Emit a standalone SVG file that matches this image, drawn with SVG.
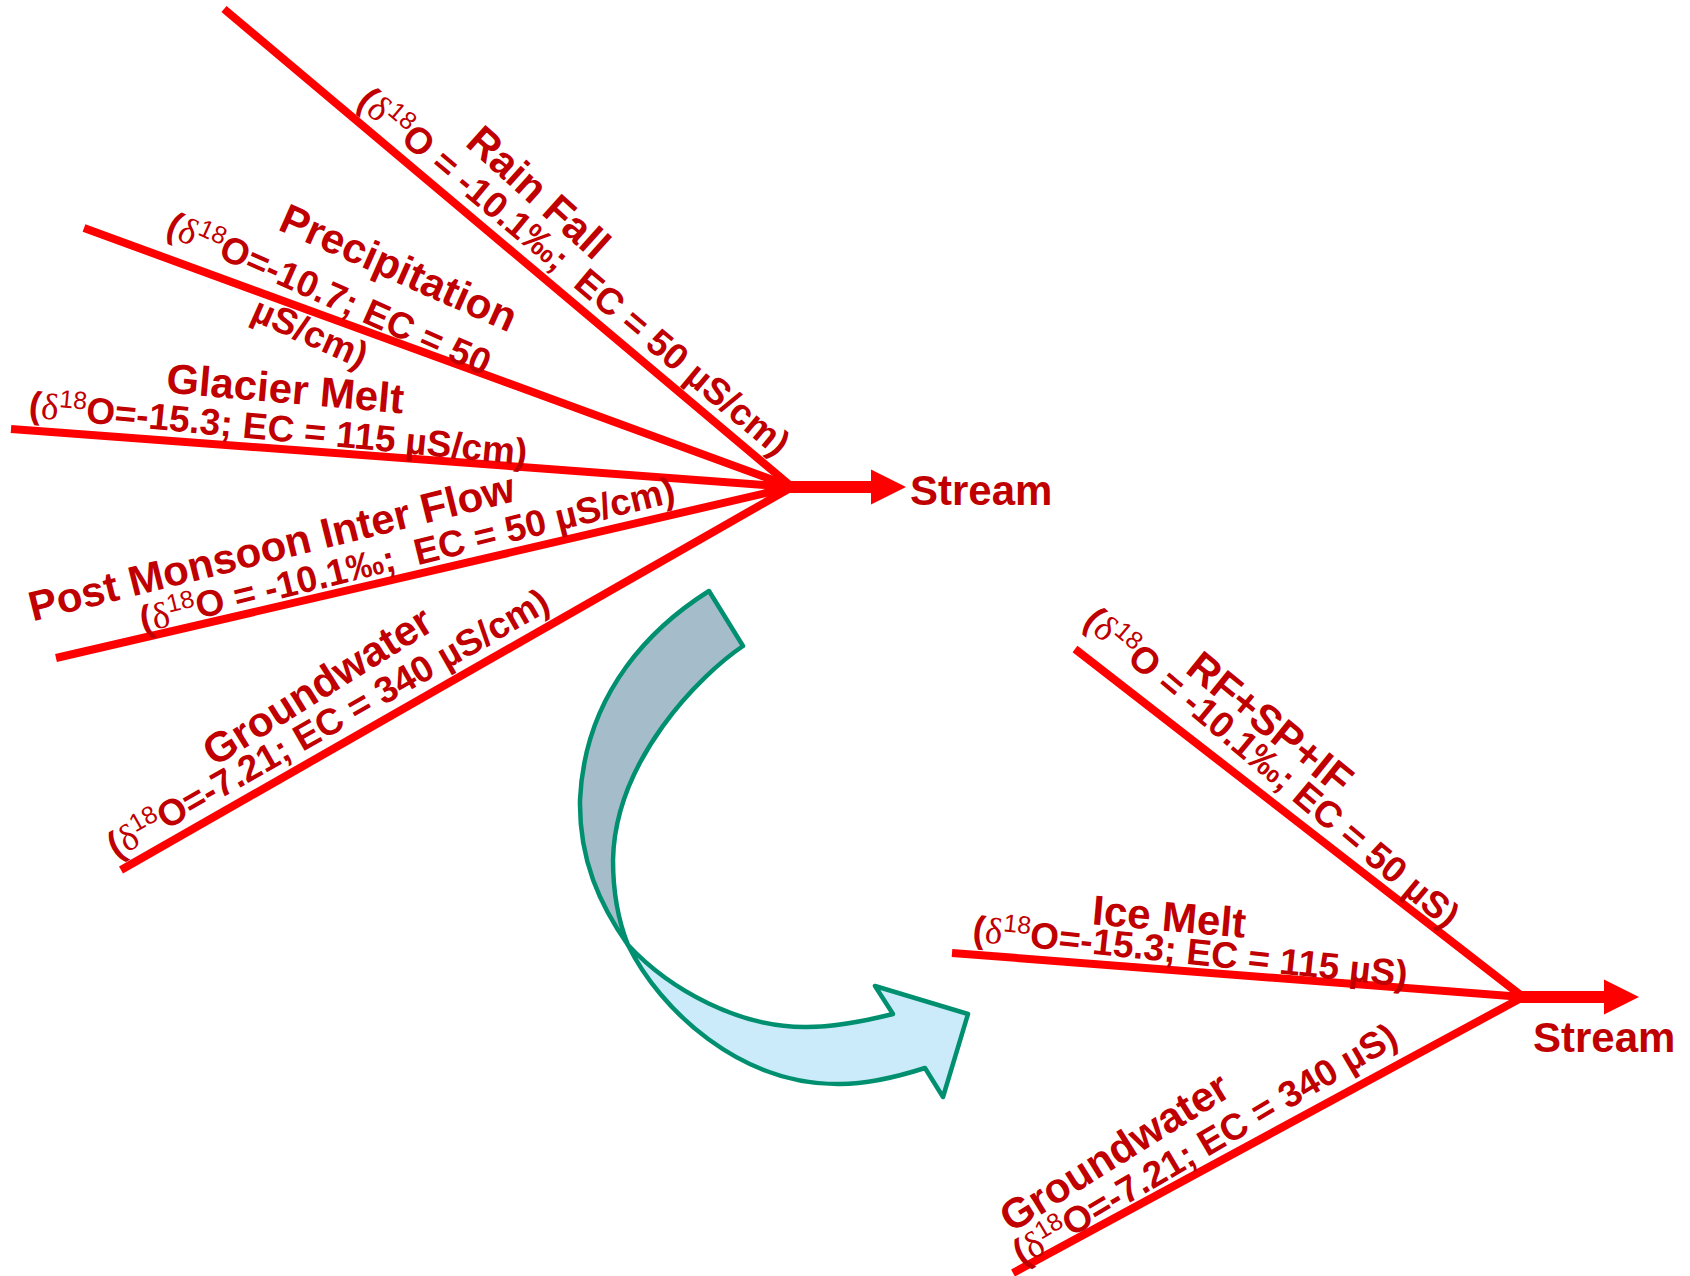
<svg xmlns="http://www.w3.org/2000/svg" width="1690" height="1276" viewBox="0 0 1690 1276">
<defs>
<style>
.ln{stroke:#FF0000;stroke-width:8;fill:none}
.st{stroke:#FF0000;stroke-width:12;fill:none}
.hd{fill:#FF0000}
text{font-family:"Liberation Sans",Arial,sans-serif;font-weight:bold;fill:#C00000;text-anchor:middle}
.t{font-size:42px}
.s{font-size:37px}
.sm{font-size:42px;text-anchor:start}
.d{font-family:"Liberation Serif","DejaVu Serif",serif;font-weight:normal}
.sup{font-size:25px;font-weight:normal}
.arw{stroke:#009070;stroke-width:4.5;stroke-linejoin:round}
</style>
</defs>
<rect width="1690" height="1276" fill="#FFFFFF"/>
<g id="connectors">
<line class="ln" x1="224" y1="9" x2="792" y2="487"/>
<line class="ln" x1="84" y1="228" x2="792" y2="487"/>
<line class="ln" x1="11" y1="429" x2="792" y2="487"/>
<line class="ln" x1="56" y1="658" x2="792" y2="487"/>
<line class="ln" x1="121" y1="870" x2="792" y2="487"/>
<line class="st" x1="788" y1="487" x2="875" y2="487"/>
<polygon class="hd" points="871,469.5 906,487 871,504.5"/>
<line class="ln" x1="1075" y1="649" x2="1523" y2="997"/>
<line class="ln" x1="952" y1="953" x2="1523" y2="997"/>
<line class="ln" x1="1013" y1="1273" x2="1523" y2="997"/>
<line class="st" x1="1519" y1="997" x2="1608" y2="997"/>
<polygon class="hd" points="1604,979.5 1639,997 1604,1014.5"/>
</g>
<g id="rainfall">
<text class="t" transform="translate(529,203) rotate(42)">Rain Fall</text>
<text class="s" transform="translate(566,281) rotate(40)">(<tspan class="d">δ</tspan><tspan class="sup" dy="-13">18</tspan><tspan dy="13">O = -10.1‰;&#160; EC = 50 µS/cm)</tspan></text>
</g>
<g id="precipitation">
<text class="t" transform="translate(393,281) rotate(24)">Precipitation</text>
<text class="s" transform="translate(324,305) rotate(24)">(<tspan class="d">δ</tspan><tspan class="sup" dy="-13">18</tspan><tspan dy="13">O=-10.7; EC = 50</tspan></text>
<text class="s" transform="translate(305,344) rotate(24)">µS/cm)</text>
</g>
<g id="glacier-melt">
<text class="t" transform="translate(284,403) rotate(5)">Glacier Melt</text>
<text class="s" transform="translate(277,441) rotate(5.5)">(<tspan class="d">δ</tspan><tspan class="sup" dy="-13">18</tspan><tspan dy="13">O=-15.3; EC = 115 µS/cm)</tspan></text>
</g>
<g id="post-monsoon">
<text class="t" transform="translate(275,561) rotate(-14)">Post Monsoon Inter Flow</text>
<text class="s" transform="translate(410,567) rotate(-13.8)">(<tspan class="d">δ</tspan><tspan class="sup" dy="-13">18</tspan><tspan dy="13">O = -10.1‰;&#160; EC = 50 µS/cm)</tspan></text>
</g>
<g id="groundwater-1">
<text class="t" transform="translate(325,698) rotate(-32)">Groundwater</text>
<text class="s" transform="translate(334,734) rotate(-29.8)">(<tspan class="d">δ</tspan><tspan class="sup" dy="-13">18</tspan><tspan dy="13">O=-7.21; EC = 340 µS/cm)</tspan></text>
</g>
<g id="stream-1">
<text class="sm" x="910" y="505">Stream</text>
</g>
<g id="curved-arrow">
<path class="arw" fill="#A5BDCB" d="M709,591 C655,625 585,690 580,800 C579,860 600,905 628,945 C620,925 613,900 613,860 C615,760 700,675 743,646 Z"/>
<path class="arw" fill="#CCEBFA" d="M628,945 C670,990 740,1028 807,1027 C835,1027 865,1021 893,1014 L875,986 L968,1014 L943,1097 L925,1068 C900,1076 870,1084 840,1084 C740,1085 660,1010 628,945 Z"/>
</g>
<g id="rf-sp-if">
<text class="t" transform="translate(1261,734) rotate(39)">RF+SP+IF</text>
<text class="s" transform="translate(1264,777) rotate(40)">(<tspan class="d">δ</tspan><tspan class="sup" dy="-13">18</tspan><tspan dy="13">O = -10.1‰; EC = 50 µS)</tspan></text>
</g>
<g id="ice-melt">
<text class="t" transform="translate(1168,931) rotate(5)">Ice Melt</text>
<text class="s" transform="translate(1189,964) rotate(6)">(<tspan class="d">δ</tspan><tspan class="sup" dy="-13">18</tspan><tspan dy="13">O=-15.3; EC = 115 µS)</tspan></text>
</g>
<g id="groundwater-2">
<text class="t" transform="translate(1122,1164) rotate(-32)">Groundwater</text>
<text class="s" transform="translate(1211,1155) rotate(-30.5)">(<tspan class="d">δ</tspan><tspan class="sup" dy="-13">18</tspan><tspan dy="13">O=-7.21; EC = 340 µS)</tspan></text>
</g>
<g id="stream-2">
<text class="sm" x="1533" y="1052">Stream</text>
</g>
</svg>
